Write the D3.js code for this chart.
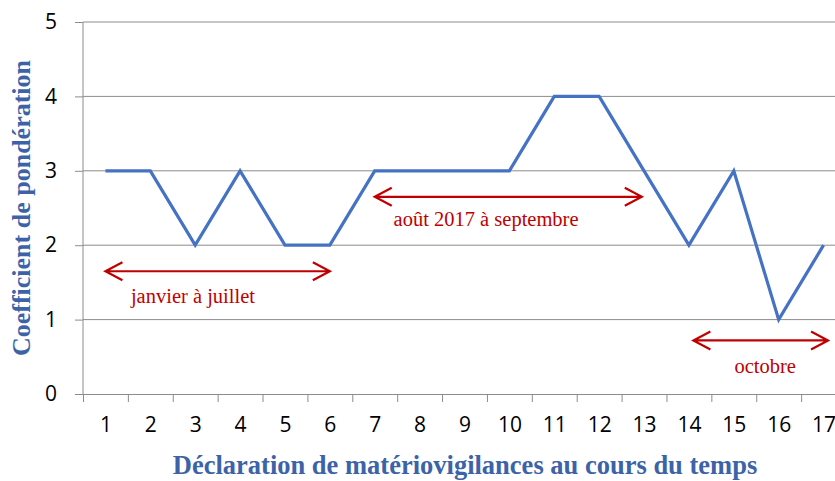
<html>
<head>
<script src="https://d3js.org/d3.v7.min.js"></script>
<style>
body { margin: 0; background: #fff; }
svg { display: block; }
.tick text { font-family: "Open Sans", sans-serif; font-size: 21px; fill: #000; }
.axis path, .axis line { stroke: #8c8c8c; }
.grid line { stroke: #8c8c8c; }
.note { font-family: "Liberation Serif", serif; font-size: 20.5px; fill: #c00000; }
.title { font-family: "Liberation Serif", serif; font-weight: bold; fill: #3c63a8; }
</style>
</head>
<body>
<div id="plot"></div>
<script>

var width = 835;
var height = 481;

// declarations 1..17 and their weighting coefficient
var categories = d3.range(1, 18);
var values = [3, 3, 2, 3, 2, 2, 3, 3, 3, 3, 4, 4, 3, 2, 3, 1, 2];
var yTicks = [0, 1, 2, 3, 4, 5];

// period arrows (in category / value units)
var periodLabels = ["janvier à juillet", "août 2017 à septembre", "octobre"];
var periodFrom = [1, 7, 14.1];
var periodTo = [6, 12.95, 17.1];
var periodY = [1.65, 2.65, 0.72];
var labelX = [2.95, 9.48, 15.7];
var labelY = [1.22, 2.26, 0.28];

var svg = d3.select("#plot").append("svg")
  .attr("width", width).attr("height", height);

var xScale = d3.scaleLinear().domain([0.5, 17.5]).range([83, 846]);
var yScale = d3.scaleLinear().domain([0, 5]).range([394, 22]);

// horizontal gridlines
svg.append("g").attr("class", "grid")
  .selectAll("line").data(yTicks.slice(1)).enter().append("line")
  .attr("x1", xScale(0.5)).attr("x2", xScale(17.5))
  .attr("y1", function(d) { return yScale(d); })
  .attr("y2", function(d) { return yScale(d); });

// y axis
var yAxis = d3.axisLeft(yScale).tickValues(yTicks).tickSize(8).tickPadding(18)
  .tickFormat(d3.format("d"));
svg.append("g").attr("class", "axis")
  .attr("transform", "translate(" + xScale(0.5) + ",0)")
  .call(yAxis)
  .call(function(g) { g.select(".domain").attr("d", "M0," + yScale(0) + "V" + yScale(5)); });

// x axis: tick marks between categories, labels under each category
var bounds = d3.range(0.5, 18, 1);
var xMarks = d3.axisBottom(xScale).tickValues(bounds).tickSize(8).tickFormat("");
svg.append("g").attr("class", "axis")
  .attr("transform", "translate(0," + yScale(0) + ")")
  .call(xMarks);

var xLabels = d3.axisBottom(xScale).tickValues(categories).tickSize(0).tickPadding(23)
  .tickFormat(d3.format("d"));
svg.append("g").attr("class", "axis")
  .attr("transform", "translate(0," + yScale(0) + ")")
  .call(xLabels)
  .call(function(g) { g.select(".domain").remove(); });

// series line
var line = d3.line()
  .x(function(d, i) { return xScale(categories[i]); })
  .y(function(d) { return yScale(d); });

svg.append("path").datum(values)
  .attr("d", line)
  .attr("fill", "none")
  .attr("stroke", "#4472c4")
  .attr("stroke-width", 3.2)
  .attr("stroke-linejoin", "miter");

// period arrows
var notes = svg.append("g");
periodLabels.forEach(function(label, i) {
  var x1 = xScale(periodFrom[i]), x2 = xScale(periodTo[i]), y = yScale(periodY[i]);
  var ah = 17, aw = 9;
  notes.append("path")
    .attr("d", "M" + x1 + "," + y + "H" + x2 +
      "M" + (x1 + ah) + "," + (y - aw) + "L" + x1 + "," + y + "L" + (x1 + ah) + "," + (y + aw) +
      "M" + (x2 - ah) + "," + (y - aw) + "L" + x2 + "," + y + "L" + (x2 - ah) + "," + (y + aw))
    .attr("fill", "none").attr("stroke", "#c00000").attr("stroke-width", 2.2);
  notes.append("text").attr("class", "note")
    .attr("x", xScale(labelX[i])).attr("y", yScale(labelY[i]))
    .attr("text-anchor", "middle")
    .text(label);
});

// axis titles
svg.append("text").attr("class", "title")
  .attr("x", 465).attr("y", 474)
  .attr("text-anchor", "middle")
  .style("font-size", "26.5px")
  .text("Déclaration de matériovigilances au cours du temps");

svg.append("text").attr("class", "title")
  .attr("transform", "translate(30,208) rotate(-90)")
  .attr("text-anchor", "middle")
  .style("font-size", "26px")
  .text("Coefficient de pondération");

</script>
</body>
</html>
